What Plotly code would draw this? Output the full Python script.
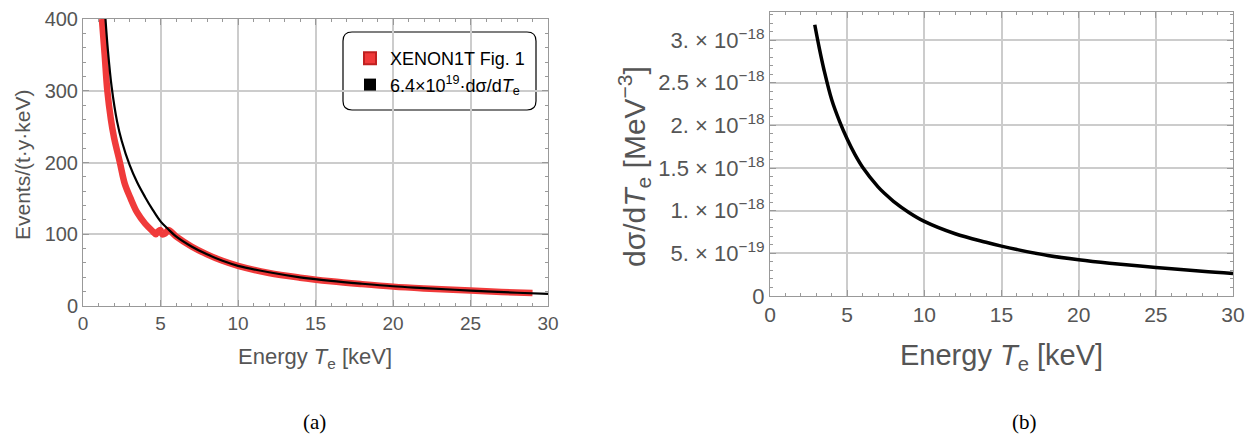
import plotly.graph_objects as go

# ---- data ----
# Panel (a): XENON1T Fig. 1 (red band)
xenon_T = [1.22, 1.4, 1.57, 1.8, 2.0, 2.38, 2.7, 3.07, 3.5, 4.0, 4.5, 4.7, 4.85, 5.0, 5.1, 5.3, 5.5, 6.0,
           7.0, 8.0, 9.0, 10.0, 12.0, 14.0, 16.0, 18.0, 20.0, 22.0, 25.0, 27.0, 29.0]
xenon_events = [400, 350, 300, 260, 235, 200, 170, 150, 130, 115, 104, 100, 104, 106, 100, 101, 106, 97,
                83, 72, 63, 56, 46, 39.5, 34.5, 30.5, 27, 24.5, 21.5, 19.5, 18]
# Panel (a): scaled cross section (black)
scaled_T = [1.45, 1.6, 1.85, 2.2, 2.5, 3.0, 3.5, 4.0, 4.5, 5.0, 5.5, 6.0, 7.0, 8.0, 9.0, 10.0,
            12.0, 14.0, 16.0, 18.0, 20.0, 22.0, 25.0, 28.0, 30.0]
scaled_events = [400, 358, 305, 257, 230, 197, 172, 152, 134, 118, 107, 97, 83, 72, 63, 56,
                 47, 40, 35, 31, 27.5, 25, 21.5, 18.5, 17]
# Panel (b): dsigma/dTe
xs_T = [2.9, 3.2, 3.5, 4.0, 4.5, 5.0, 5.5, 6.0, 7.0, 7.5, 8.0, 9.0, 10.0, 12.0, 14.0, 15.0, 16.0,
        18.0, 20.0, 22.0, 25.0, 28.0, 30.0]
xs_val = [3.18e-18, 2.9e-18, 2.65e-18, 2.3e-18, 2.05e-18, 1.84e-18, 1.66e-18, 1.51e-18, 1.28e-18,
          1.19e-18, 1.11e-18, 0.98e-18, 0.875e-18, 0.73e-18, 0.63e-18, 0.585e-18, 0.545e-18,
          0.475e-18, 0.425e-18, 0.385e-18, 0.335e-18, 0.29e-18, 0.265e-18]
xs_tickvals = [0, 5e-19, 1e-18, 1.5e-18, 2e-18, 2.5e-18, 3e-18]
xs_ticktext = ["0", "5. × 10<sup>−19</sup>", "1. × 10<sup>−18</sup>", "1.5 × 10<sup>−18</sup>",
               "2. × 10<sup>−18</sup>", "2.5 × 10<sup>−18</sup>", "3. × 10<sup>−18</sup>"]
x_ticks = [0, 5, 10, 15, 20, 25, 30]
left_yticks = [0, 100, 200, 300, 400]

OFF = 0
W, H = 1256, 436
FONT = "Liberation Sans"
TXT = "#555555"
GRID = "#cccccc"
FRAME = "#999999"
RED = "#f03a3a"

fig = go.Figure()
fig.add_trace(go.Scatter(x=xenon_T, y=xenon_events, mode="lines", line=dict(color=RED, width=6.5),
                         line_shape="spline", showlegend=False, xaxis="x", yaxis="y"))
fig.add_trace(go.Scatter(x=scaled_T, y=scaled_events, mode="lines", line=dict(color="black", width=2.2),
                         line_shape="spline", showlegend=False, xaxis="x", yaxis="y"))
# legend entries
fig.add_trace(go.Scatter(x=[None], y=[None], mode="markers", name="XENON1T Fig. 1",
                         marker=dict(symbol="square", size=13, color=RED, line=dict(color="#c02020", width=1)),
                         xaxis="x", yaxis="y"))
fig.add_trace(go.Scatter(x=[None], y=[None], mode="markers",
                         name="6.4×10<sup>19</sup>·dσ/d<i>T</i><sub>e</sub>",
                         marker=dict(symbol="square", size=13, color="black"), xaxis="x", yaxis="y"))
fig.add_trace(go.Scatter(x=xs_T, y=xs_val, mode="lines", line=dict(color="black", width=3.5),
                         line_shape="spline", showlegend=False, xaxis="x2", yaxis="y2"))

def px_x(p):
    return (p - OFF) / W

def px_y(p):
    return (H - (p - OFF)) / H

def axis_common(size):
    return dict(showline=True, linecolor=FRAME, linewidth=1, mirror="ticks", ticks="inside",
                ticklen=6, tickcolor=FRAME, tickwidth=1, showgrid=True, gridcolor=GRID, gridwidth=1.5,
                zeroline=False, automargin=False, tickfont=dict(family=FONT, size=size, color=TXT))

fig.update_layout(
    width=W, height=H, margin=dict(l=0, r=0, t=0, b=0, autoexpand=False),
    paper_bgcolor="white", plot_bgcolor="white",
    xaxis=dict(domain=[px_x(83), px_x(548)], range=[0, 30], anchor="y", tickvals=x_ticks,
               minor=dict(dtick=1, ticks="inside", ticklen=3, tickcolor=FRAME, showgrid=False),
               **axis_common(19)),
    yaxis=dict(domain=[px_y(306), px_y(19)], range=[0, 400], anchor="x", tickvals=left_yticks,
               minor=dict(dtick=20, ticks="inside", ticklen=3, tickcolor=FRAME, showgrid=False),
               **axis_common(20)),
    xaxis2=dict(domain=[px_x(770), px_x(1233)], range=[0, 30], anchor="y2", tickvals=x_ticks,
                minor=dict(dtick=1, ticks="inside", ticklen=3, tickcolor=FRAME, showgrid=False),
                **axis_common(21)),
    yaxis2=dict(domain=[px_y(296), px_y(12)], range=[0, 3.33e-18], anchor="x2",
                tickvals=xs_tickvals, ticktext=xs_ticktext,
                minor=dict(dtick=1e-19, ticks="inside", ticklen=3, tickcolor=FRAME, showgrid=False),
                **axis_common(22)),
    showlegend=True,
    legend=dict(x=px_x(350), y=px_y(40), xanchor="left", yanchor="top", bgcolor="rgba(0,0,0,0)",
                borderwidth=0, font=dict(family=FONT, size=18, color="black"), itemsizing="constant",
                tracegroupgap=4, itemwidth=30),
)

# rounded legend frame
x0, x1, y0, y1 = px_x(343), px_x(536), px_y(110), px_y(32)
rx, ry = 9 / W, 9 / H
path = (f"M {x0+rx},{y0} L {x1-rx},{y0} Q {x1},{y0} {x1},{y0+ry} L {x1},{y1-ry} Q {x1},{y1} {x1-rx},{y1} "
        f"L {x0+rx},{y1} Q {x0},{y1} {x0},{y1-ry} L {x0},{y0+ry} Q {x0},{y0} {x0+rx},{y0} Z")
fig.add_shape(type="path", xref="paper", yref="paper", path=path, line=dict(color="black", width=1.2),
              fillcolor="white", layer="below")

def label(text, x, y, size, angle=0, family=FONT, color=TXT):
    return dict(text=text, x=px_x(x), y=px_y(y), textangle=angle, showarrow=False,
                xanchor="center", yanchor="middle", xref="paper", yref="paper",
                font=dict(family=family, size=size, color=color))

ann = [
    label("Events/(t·y·keV)", 22, 165, 21, angle=-90),
    label("Energy <i>T</i><sub>e</sub> [keV]", 315, 358, 22),
    label("dσ/d<i>T</i><sub>e</sub> [MeV<sup>−3</sup>]", 634, 167, 30, angle=-90),
    label("Energy <i>T</i><sub>e</sub> [keV]", 1001, 357, 29),
    label("(a)", 314, 422, 21, family="Liberation Serif", color="black"),
    label("(b)", 1024, 422, 21, family="Liberation Serif", color="black"),
]
fig.update_layout(annotations=ann)

fig.write_html("out.html", config={"displayModeBar": False},
               post_script="document.body.style.margin='0';document.body.style.overflow='hidden';")
